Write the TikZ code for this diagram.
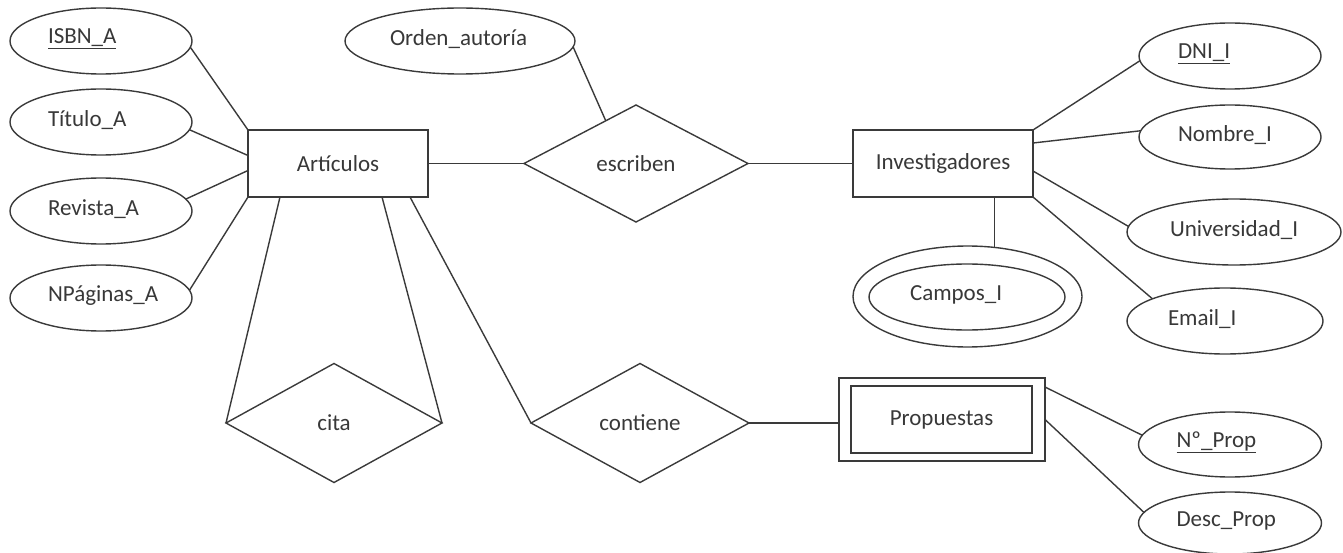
\documentclass[tikz,border=0pt]{standalone}
\usepackage{fontspec}
\setmainfont{Carlito}
\usetikzlibrary{shapes.geometric,calc}
\definecolor{ink}{HTML}{3A3A3A}
\definecolor{txt}{HTML}{383838}
\begin{document}
\begin{tikzpicture}[x=1pt,y=-1pt,
  every node/.style={font=\fontsize{23}{26}\selectfont, text=txt, inner sep=0pt, outer sep=0pt},
  attr/.style={ellipse, draw=ink, line width=1.4pt, minimum height=66pt},
  lbl/.style 2 args={label={[anchor=west,xshift=#1,yshift=2pt]west:#2}},
  ent/.style={rectangle, draw=ink, line width=1.4pt, minimum height=67pt},
  rel/.style={diamond, draw=ink, line width=1.4pt},
  link/.style={draw=ink, line width=1.4pt}]
\useasboundingbox (0,0) rectangle (1343,553);

% entity Artículos and its attributes
\node[ent, minimum width=180pt] (art) at (338,163.5) {Artículos};
\node[attr, minimum width=182pt, lbl={38pt}{\underline{ISBN\_A}}] (isbn) at (101,41) {};
\node[attr, minimum width=182pt, lbl={38pt}{Título\_A}] (titulo) at (101,122) {};
\node[attr, minimum width=182pt, lbl={38pt}{Revista\_A}] (revista) at (101,211) {};
\node[attr, minimum width=182pt, lbl={38pt}{NPáginas\_A}] (npag) at (101,298) {};

% relationship escriben
\node[rel, minimum width=224pt, minimum height=117pt] (esc) at (636,163.5) {escriben};
\node[attr, minimum width=230pt, lbl={45pt}{Orden\_autoría}] (orden) at (460,41) {};

% entity Investigadores and its attributes
\node[ent, minimum width=180pt] (inv) at (943,163.5) {Investigadores};
\node[attr, minimum width=182pt, lbl={39pt}{\underline{DNI\_I}}] (dni) at (1230,56) {};
\node[attr, minimum width=182pt, minimum height=64pt, lbl={39pt}{Nombre\_I}] (nombre) at (1230,137) {};
\node[attr, minimum width=214pt, lbl={43pt}{Universidad\_I}] (univ) at (1234,232) {};
\node[attr, minimum width=196pt, lbl={41pt}{Email\_I}] (email) at (1225,321) {};
% multivalued attribute
\node[ellipse, draw=ink, line width=1.4pt, minimum width=229pt, minimum height=101pt] (camposo) at (967.5,296.5) {};
\node[ellipse, draw=ink, line width=1.4pt, minimum width=196pt, minimum height=66pt, lbl={41pt}{Campos\_I}] (campos) at (967,297) {};

% relationships cita and contiene
\node[rel, minimum width=216pt, minimum height=119pt] (cita) at (334,423) {cita};
\node[rel, minimum width=218pt, minimum height=119pt] (cont) at (640,423) {contiene};

% weak entity Propuestas
\node[ent, minimum width=206pt, minimum height=83pt] (prop) at (942,419.5) {};
\node[ent, minimum width=181pt, minimum height=67pt] (propin) at (941.5,419.5) {Propuestas};
\node[attr, minimum width=183pt, minimum height=65pt, lbl={38pt}{\underline{Nº\_Prop}}] (nprop) at (1230,444.5) {};
\node[attr, minimum width=183pt, minimum height=62pt, lbl={38pt}{Desc\_Prop}] (desc) at (1230,523) {};

% connectors
\draw[link] (isbn.-4) -- (art.north west);
\draw[link] (titulo.-5) -- ([yshift=8pt]art.west);
\draw[link] (revista.8) -- ([yshift=-7pt]art.west);
\draw[link] (npag.5) -- (art.south west);
\draw[link] (art.east) -- (esc.west);
\draw[link] (orden.-3) -- ($(esc.north)!0.27!(esc.west)$);
\draw[link] (esc.east) -- (inv.west);
\draw[link] (inv.north east) -- (dni.183);
\draw[link] ([yshift=20.5pt]inv.east) -- (nombre.176);
\draw[link] ([yshift=-7.5pt]inv.east) -- (univ.177);
\draw[link] (inv.south east) -- (email.163);
\draw[link] (camposo.61 |- inv.south) -- (camposo.61);
\draw[link] ([xshift=-58pt]art.south) -- (cita.west);
\draw[link] ([xshift=44pt]art.south) -- (cita.east);
\draw[link] ([xshift=72pt]art.south) -- (cont.west);
\draw[link] (cont.east) -- (prop.west |- cont.east);
\draw[link] ([yshift=-9pt]prop.north east) -- (nprop.174);
\draw[link] (prop.east) -- (desc.173);
\end{tikzpicture}
\end{document}
